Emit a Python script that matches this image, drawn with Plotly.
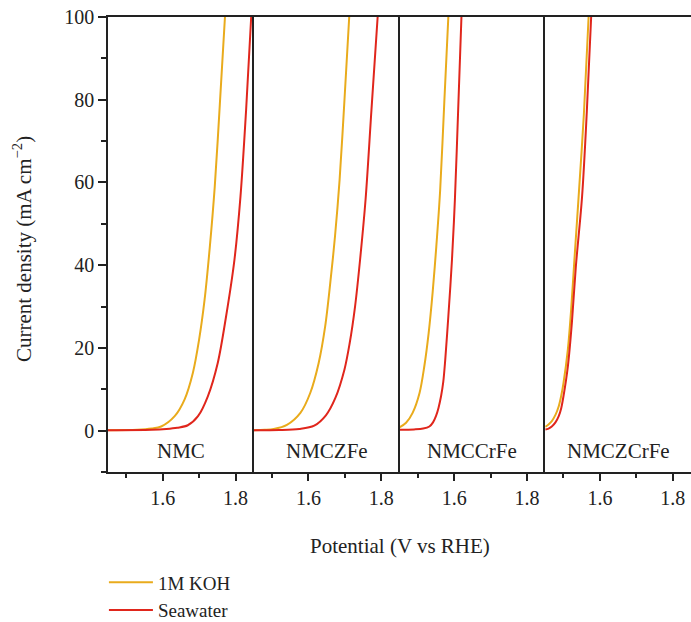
import plotly.graph_objects as go
from plotly.subplots import make_subplots

panels = ["NMC", "NMCZFe", "NMCCrFe", "NMCZCrFe"]
series_names = ["1M KOH", "Seawater"]
colors = ["#E9AB1C", "#E0261C"]

# Panel 1: NMC
nmc_koh_x = [1.45, 1.53, 1.57, 1.596, 1.633, 1.660, 1.683, 1.700, 1.715, 1.729, 1.743, 1.757, 1.771]
nmc_koh_y = [0.1, 0.2, 0.5, 1.0, 3.5, 7.5, 14.0, 22.0, 31.6, 44.0, 59.0, 79.0, 100]
nmc_sw_x = [1.45, 1.57, 1.610, 1.640, 1.669, 1.697, 1.724, 1.751, 1.774, 1.797, 1.8135, 1.829, 1.843]
nmc_sw_y = [0.1, 0.2, 0.4, 0.7, 1.3, 3.5, 8.3, 16.3, 27.6, 41.3, 56.5, 77.5, 100]

# Panel 2: NMCZFe
nmczfe_koh_x = [1.45, 1.48, 1.505, 1.541, 1.578, 1.605, 1.628, 1.646, 1.660, 1.673, 1.6855, 1.699, 1.712]
nmczfe_koh_y = [0.1, 0.2, 0.4, 1.4, 4.3, 9.1, 16.3, 25.2, 35.7, 47.0, 60.5, 80.0, 100]
nmczfe_sw_x = [1.45, 1.52, 1.575, 1.616, 1.648, 1.674, 1.699, 1.713, 1.728, 1.742, 1.757, 1.773, 1.790]
nmczfe_sw_y = [0.1, 0.15, 0.4, 1.2, 3.7, 7.9, 14.8, 21.0, 30.0, 41.5, 56.0, 77.5, 100]

# Panel 3: NMCCrFe
nmccrfe_koh_x = [1.45, 1.468, 1.486, 1.505, 1.518, 1.530, 1.541, 1.551, 1.5615, 1.573, 1.584]
nmccrfe_koh_y = [0.8, 1.9, 4.3, 9.1, 15.5, 23.6, 33.5, 44.5, 58.0, 79.5, 100]
nmccrfe_sw_x = [1.45, 1.49, 1.515, 1.532, 1.542, 1.550, 1.557, 1.564, 1.570, 1.5755, 1.584, 1.594, 1.602, 1.611, 1.620]
nmccrfe_sw_y = [0.2, 0.3, 0.5, 1.0, 2.0, 3.5, 5.5, 8.3, 11.7, 17.1, 27.6, 41.3, 55.8, 77.5, 100]

# Panel 4: NMCZCrFe
nmczcrfe_koh_x = [1.45, 1.459, 1.468, 1.478, 1.487, 1.494, 1.500, 1.512, 1.521, 1.530, 1.541, 1.556, 1.569]
nmczcrfe_koh_y = [0.9, 1.5, 2.3, 3.8, 5.9, 8.5, 11.5, 19.6, 29.2, 41.3, 55.8, 76.5, 100]
nmczcrfe_sw_x = [1.45, 1.459, 1.468, 1.478, 1.487, 1.494, 1.500, 1.512, 1.523, 1.534, 1.551, 1.564, 1.576]
nmczcrfe_sw_y = [0.3, 0.5, 1.0, 2.0, 3.5, 5.5, 8.3, 15.5, 26.0, 39.7, 56.5, 77.0, 100]

data = [
    ((nmc_koh_x, nmc_koh_y), (nmc_sw_x, nmc_sw_y)),
    ((nmczfe_koh_x, nmczfe_koh_y), (nmczfe_sw_x, nmczfe_sw_y)),
    ((nmccrfe_koh_x, nmccrfe_koh_y), (nmccrfe_sw_x, nmccrfe_sw_y)),
    ((nmczcrfe_koh_x, nmczcrfe_koh_y), (nmczcrfe_sw_x, nmczcrfe_sw_y)),
]

x_ticks = [1.6, 1.8]
x_minor = [1.5, 1.7]
x_range = [1.45, 1.85]
y_range = [-10, 100]
y_ticks = [0, 20, 40, 60, 80, 100]

FONT = "Liberation Serif"
AX = "#222222"

fig = make_subplots(rows=1, cols=4, shared_yaxes=True, horizontal_spacing=0)

for i, pair in enumerate(data):
    for j, (xs, ys) in enumerate(pair):
        fig.add_trace(go.Scatter(
            x=xs, y=ys, mode="lines", name=series_names[j],
            line=dict(color=colors[j], width=2, shape="spline", smoothing=0.9),
            showlegend=(i == 0), legendgroup=series_names[j],
        ), row=1, col=i + 1)
    fig.add_annotation(text=panels[i], x=0.5, y=-5, xref=f"x{'' if i == 0 else i + 1} domain",
                       yref="y", showarrow=False, font=dict(family=FONT, size=21, color=AX))

fig.update_xaxes(range=x_range, tickvals=x_ticks, ticktext=[f"{v:.1f}" for v in x_ticks],
                 ticks="outside", ticklen=7, tickwidth=1.5, tickcolor=AX,
                 minor=dict(tickvals=x_minor, ticks="outside", ticklen=4, tickwidth=1.5, tickcolor=AX),
                 showline=True, linecolor=AX, linewidth=1.5, mirror=True,
                 showgrid=False, zeroline=False,
                 tickfont=dict(family=FONT, size=20, color=AX))
fig.update_yaxes(range=y_range, showline=True, linecolor=AX, linewidth=1.5,
                 showgrid=False, zeroline=False)
fig.update_yaxes(tickvals=y_ticks, ticks="outside", ticklen=8, tickwidth=1.5, tickcolor=AX,
                 minor=dict(dtick=10, tick0=0, ticks="outside", ticklen=5, tickwidth=1.5, tickcolor=AX),
                 tickfont=dict(family=FONT, size=20, color=AX), row=1, col=1)
for c in (2, 3, 4):
    fig.update_yaxes(ticks="", showticklabels=False, row=1, col=c)

fig.add_annotation(text="Potential (V vs RHE)", x=0.5, y=-0.162, xref="paper", yref="paper",
                   showarrow=False, xanchor="center", yanchor="middle",
                   font=dict(family=FONT, size=21, color=AX))
fig.add_annotation(text="Current density (mA cm<sup>−2</sup>)", x=-0.1475, y=0.49,
                   xref="paper", yref="paper", textangle=-90, showarrow=False,
                   xanchor="center", yanchor="middle",
                   font=dict(family=FONT, size=21, color=AX))

fig.update_layout(
    width=691, height=622,
    margin=dict(l=108, r=0, t=17, b=150, autoexpand=False),
    paper_bgcolor="white", plot_bgcolor="white",
    legend=dict(x=-0.007, y=-0.201, xanchor="left", yanchor="top", itemwidth=44,
                font=dict(family=FONT, size=19, color=AX), tracegroupgap=0,
                bgcolor="rgba(0,0,0,0)"),
)

fig.write_html("out.html")
